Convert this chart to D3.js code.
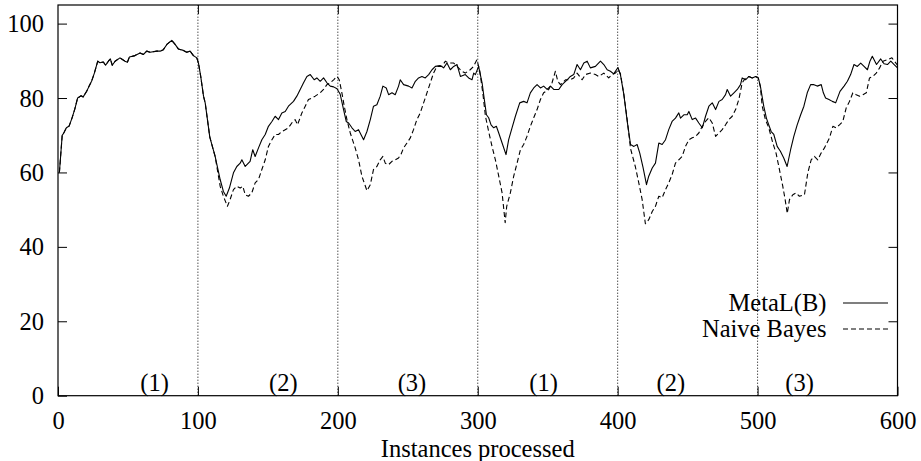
<!DOCTYPE html>
<html>
<head>
<meta charset="utf-8">
<script src="https://cdn.jsdelivr.net/npm/d3@7"></script>
<style>
  html, body { margin: 0; padding: 0; background: #fff; }
  svg { display: block; }
</style>
</head>
<body>
<svg id="chart" width="921" height="461"></svg>
<script>
// Accuracy (%) of each learner against number of instances processed: [instance, accuracy]
const metaL = [
  [1,60],[3,70],[4,70.5],[6,72],[8,72.5],[10,74.6],[12,77],[14,80],[16.5,80.6],[18,80.3],
  [20.5,81.8],[22,83],[24,84.5],[26,86.7],[28.4,89.9],[30,89.5],[32.4,89.7],[34,88.8],[36,89.9],
  [37.4,90.5],[38.8,88.8],[40.8,89.9],[44.3,90.8],[47.9,89.9],[49.6,89.6],[51,91],[55,91.4],
  [58.7,92.1],[61,91.7],[63.4,92.6],[65.8,92.3],[70.6,92.6],[73,92.6],[75.3,93],[77.8,94.4],
  [81.3,95.5],[83.7,94.4],[86,93.2],[89.6,92.8],[92,92.3],[94.4,92.6],[96.8,91.4],[99.2,90.8],
  [100.4,89.4],[102,85.8],[104,80.5],[105.2,78.7],[108.5,69.5],[112.3,64.3],[115.9,58.1],
  [118.2,54.9],[120.2,53.6],[122.5,55.8],[125.4,59.9],[127.8,61.6],[130.2,62.5],[131.4,63.4],
  [133.8,61.6],[137.3,63],[139.2,66.1],[140.9,64.3],[143.3,66.6],[145.7,68.8],[148.1,70.2],
  [150.4,72.4],[152.9,73.7],[155.2,75.1],[157.6,74.2],[160,76],[162.4,76.4],[164.7,77.8],
  [168.3,79.1],[170.7,80.5],[173.1,82.3],[175.5,84.1],[177.9,85.8],[180.3,86.3],[183.1,84.9],
  [185,85.4],[187.4,84.5],[189.8,85.4],[192.2,84.1],[194.6,83.2],[197,83],[199.4,82.5],
  [201.7,81],[204.1,76.9],[206,73.7],[207.7,73.3],[210.1,72],[212.4,71],[214.8,71.5],
  [216.5,70.2],[218.4,68.8],[220.8,71],[223.2,74.2],[225.5,77.8],[227.9,78.2],[230.3,80.5],
  [232.2,83.2],[234.6,82.7],[236.3,80.9],[238.7,81.4],[241,80.9],[243.4,83.2],[244.6,84.9],
  [247,83.6],[250.6,83.2],[253,82.7],[255.4,84.5],[257.7,85.4],[260.1,85.8],[262.5,85.4],
  [264.9,86.3],[267.3,87.6],[269.7,88.5],[273.2,88.7],[275.6,88.1],[278,89.4],[280.4,87.6],
  [282.8,88.5],[285.2,89],[287.6,85.8],[291.1,86.3],[293.5,85.4],[295.9,84.9],[297.1,86.7],
  [298.3,86.3],[300.6,88.5],[303.1,84.1],[304.7,79.6],[306.2,75.5],[307.8,74.7],[309.5,72.8],
  [311.4,72],[313.3,72.4],[315,70.6],[317.4,67.9],[320.2,64.8],[322.1,68.8],[324.5,72],
  [326.9,75.1],[330,78.7],[332.8,79.1],[335.2,78.7],[337.6,81.4],[340,82.7],[342.4,83.6],
  [344.8,82.7],[347.1,83.2],[349.6,82.3],[352,83.2],[354.3,82.3],[357.9,82.3],[360.3,83.6],
  [363.9,84.9],[366.2,85.8],[368.6,86.3],[371,89],[373.4,87.6],[375.8,89.4],[378.2,89.9],
  [380.5,88.1],[384.1,88.5],[387.7,89.9],[390.1,89],[392.5,87.6],[394.8,87.2],[397.2,86.5],
  [400.2,88.2],[402,86.2],[404.4,81],[406.8,73.8],[409.2,67.5],[411.6,67],[413.9,67.5],
  [415.8,65.2],[418.2,61.2],[420.6,56.7],[422.2,59],[424.7,61.2],[427,62.5],[429.4,67.9],
  [431.8,67.5],[434.2,68.8],[436.5,71.5],[438.9,73.7],[441.3,74.6],[443.7,76],[444.9,74.6],
  [447.3,75.5],[449.7,75.5],[450.9,76.4],[453.3,74.2],[455.7,74.6],[458,73.3],[460.5,72],
  [462.8,75.1],[465.2,77.8],[467.6,78.7],[470,76.9],[472.4,79.1],[474.7,79.6],[477.1,80.9],
  [478.3,82.3],[480.7,80.5],[483.1,81.4],[485.5,82.3],[487.8,83.6],[489,85.4],[491.4,84.9],
  [493.8,85.8],[496.2,85.4],[498.6,85.8],[500.5,85.4],[502,83.2],[504.4,77.8],[506.3,74.6],
  [508,72.8],[509.7,71],[511.6,70.2],[514,67],[516.3,65.7],[518.7,63.9],[521.1,61.6],
  [523.6,66.1],[525.9,69.7],[528.3,72.8],[530.8,75.5],[533.1,77.8],[535.5,81.4],[537.9,83.6],
  [540.3,83.6],[542.6,83.2],[545.5,83.6],[547,81.4],[548.6,80],[551,79.6],[553.4,79.1],
  [555.8,78.7],[558.9,81.8],[561.8,83.2],[564.2,84.5],[566.5,86.3],[568.9,89],[571.3,88.5],
  [573.7,89.4],[576.1,88.5],[578.5,87.6],[580.3,89.9],[582,91.2],[585,89],[588,90.5],
  [590.4,89.2],[592.8,89],[595.2,89.9],[597.6,89],[600,88.1]
];

const naiveBayes = [
  [1,60],[3,70],[4,70.5],[6,72],[8,72.5],[10,74.6],[12,77],[14,80],[16.5,80.6],[18,80.3],
  [20.5,81.8],[22,83],[24,84.5],[26,86.7],[28.4,89.9],[30,89.5],[32.4,89.7],[34,88.8],[36,89.9],
  [37.4,90.5],[38.8,88.8],[40.8,89.9],[44.3,90.8],[47.9,89.9],[49.6,89.6],[51,91],[55,91.4],
  [58.7,92.1],[61,91.7],[63.4,92.6],[65.8,92.3],[70.6,92.6],[73,92.6],[75.3,93],[77.8,94.4],
  [81.3,95.5],[83.7,94.4],[86,93.2],[89.6,92.8],[92,92.3],[94.4,92.6],[96.8,91.4],[99.2,90.8],
  [100.4,89.4],[102,85.8],[104,80.5],[105.2,78.7],[108.5,69.5],[112.3,64.3],
  [115.9,56.3],[118.2,53.6],[121.1,50.9],[123,52.7],[125.4,55.4],[127.8,56.3],[130.2,55.8],
  [132.1,56.3],[133.8,54],[136.1,53.6],[138.5,54.5],[140.9,57.2],[143.3,58.1],[145.7,60.8],
  [148.1,63.4],[150.4,67],[152.9,68.8],[155.2,70.2],[157.6,70.2],[160,71],[162.4,71.5],
  [164.7,72],[167.1,73.3],[169.5,74.2],[171.2,72.8],[174.3,76],[176.7,77.8],[179,79.6],
  [181.4,80],[183.8,80.5],[187.4,81.4],[189.8,82.3],[192.2,83.6],[194.6,84.1],[197,84.9],
  [199.4,85.8],[201,84.9],[202.9,81.4],[204.6,77.8],[206.5,74.2],[208.9,70.6],[212.4,66.6],
  [214.8,63.4],[217.2,59],[220.8,55.1],[223.2,56.7],[225.5,60.8],[227.9,61.6],[230.3,63.4],
  [232.2,64.3],[233.9,62.5],[236.3,62.1],[238.7,63],[241,63.4],[243.4,63.9],[245.1,64.8],
  [247,66.6],[249.4,67.9],[251.8,69.3],[254.1,71.5],[256.5,74.2],[258.9,76],[261.3,78.7],
  [263.7,81.4],[266.1,84.1],[268.4,86.7],[270.8,88.5],[274.4,88.5],[276.8,89.9],[279.2,89.4],
  [282.8,89.4],[285.2,88.5],[288.7,87.2],[291.1,86.7],[294.6,87.6],[297,88.5],[299.4,90.3],
  [301.3,87.6],[303.6,81.4],[305.5,75.1],[307.8,71],[310.2,67],[312.6,63.4],[315,59],
  [317.4,54.5],[319.6,46.5],[320.7,50.9],[323.3,54.5],[325.7,59],[328.1,62.5],[330.5,66.1],
  [332.8,67.5],[335.2,69.7],[337.6,72.4],[340,74.7],[342.4,76.9],[344.8,79.6],[347.1,81.4],
  [350.7,82.3],[353.1,84.1],[355.5,87.2],[357.2,84.5],[359.1,83.6],[362.7,84.9],[366.2,84.9],
  [368.6,85.4],[371,86.7],[374.6,84.9],[377,86.3],[380.5,86.7],[384.1,86.3],[386.5,85.8],
  [390.1,86.7],[393.6,85.4],[396,86.3],[398.4,86.7],[400.4,87.6],[402,86.5],[404.4,81],
  [406.8,74.2],[409.2,66.4],[412.6,61.6],[415.1,57.2],[417.5,52.7],[419.8,46.2],[422.2,47.3],
  [424.7,49.5],[427,50.9],[429.4,53.6],[431.8,53.2],[434.2,55.4],[436.5,57.2],[438.9,59.4],
  [441.3,62.5],[443.7,63.4],[446.1,64.3],[448.5,67],[450.9,68.8],[453.3,69.3],[455.7,69.7],
  [458,70.6],[460.5,72.4],[462.8,73.7],[465.2,74.7],[467.6,73.3],[470,69.7],[472.4,70.6],
  [474.7,71.5],[477.1,72.8],[479.5,74.2],[481.9,75.1],[484.3,76.9],[486.6,79.6],[489,84.1],
  [491.4,85.4],[493.8,85.8],[496.2,85.4],[498.6,85.8],[500.5,85.4],[502,83],[503.3,77.8],
  [505.6,74.2],[508,72],[510.9,67.9],[513.2,65.2],[515.6,60.8],[518,56.3],[519.7,52.7],
  [521.2,49],[522.8,52.7],[525.2,54],[527.5,54.5],[529.9,53.6],[533.5,54],[535.9,59.9],
  [538.3,63.4],[540.6,64.3],[543,63.4],[545.4,65.2],[547.8,66.6],[551.4,69.3],[553.8,72.4],
  [556.2,72],[558.5,72.8],[560.9,73.7],[563.3,77.3],[565.7,79.1],[568.1,81.4],[570.5,80.9],
  [572.9,80.5],[575.3,80.9],[577.7,81.4],[580,85.4],[582.4,85.8],[584.8,86.7],[587.2,88.1],
  [589.6,89.9],[593,90.3],[596,90.8],[600,88.8]
];

const xTicks = [0, 100, 200, 300, 400, 500, 600];
const yTicks = [0, 20, 40, 60, 80, 100];
const conceptChanges = [100, 200, 300, 400, 500];
const phaseNames = ["(1)", "(2)", "(3)", "(1)", "(2)", "(3)"];
const phaseCentres = [69, 161, 253, 347, 438, 530];
const seriesNames = ["MetaL(B)", "Naive Bayes"];

const svg = d3.select("#chart");
const plotLeft = 58, plotRight = 897.5, plotTop = 5, plotBottom = 395.7;
const serif = "Liberation Serif, Times New Roman, Times, Nimbus Roman, DejaVu Serif, serif";
const fontSize = 24.5;
const tickLen = 9;

svg.attr("font-family", serif).attr("font-size", fontSize);

const x = d3.scaleLinear().domain([0, 600]).range([plotLeft, plotRight]);
const y = d3.scaleLinear().domain([0, 105]).range([plotBottom, plotTop]);

// concept-change markers
svg.append("g").selectAll("line").data(conceptChanges).join("line")
  .attr("x1", d => x(d)).attr("x2", d => x(d))
  .attr("y1", y(0)).attr("y2", y(105))
  .attr("stroke", "#000").attr("stroke-width", 1)
  .attr("stroke-dasharray", "1,2");

// axes with inward ticks on all four sides
function styleAxis(g) {
  g.attr("font-family", serif).attr("font-size", fontSize);
  g.select(".domain").remove();
  g.selectAll(".tick line").attr("stroke", "#000").attr("stroke-width", 1);
  g.selectAll("text").attr("fill", "#000");
}

const gx = svg.append("g").attr("transform", `translate(0,${plotBottom})`)
  .call(d3.axisBottom(x).tickValues(xTicks).tickSize(-tickLen).tickSizeOuter(0).tickFormat(d3.format("d")))
  .call(styleAxis);
gx.selectAll("text").attr("y", 33.8).attr("dy", 0);

svg.append("g").attr("transform", `translate(0,${plotTop})`)
  .call(d3.axisTop(x).tickValues(xTicks.slice(1, -1)).tickSize(-tickLen).tickSizeOuter(0).tickFormat(""))
  .call(styleAxis);

const gy = svg.append("g").attr("transform", `translate(${plotLeft},0)`)
  .call(d3.axisLeft(y).tickValues(yTicks).tickSize(-tickLen).tickSizeOuter(0).tickFormat(d3.format("d")))
  .call(styleAxis);
gy.selectAll("text").attr("x", -14).attr("dy", "0.33em");

svg.append("g").attr("transform", `translate(${plotRight},0)`)
  .call(d3.axisRight(y).tickValues(yTicks.slice(1)).tickSize(-tickLen).tickSizeOuter(0).tickFormat(""))
  .call(styleAxis);

// frame
svg.append("rect")
  .attr("x", plotLeft).attr("y", plotTop)
  .attr("width", plotRight - plotLeft).attr("height", plotBottom - plotTop)
  .attr("fill", "none").attr("stroke", "#000").attr("stroke-width", 1.2);

// phase labels
svg.append("g").selectAll("text").data(phaseNames).join("text")
  .attr("x", (d, i) => x(phaseCentres[i]))
  .attr("y", 391)
  .attr("text-anchor", "middle")
  .text(d => d);

// x-axis title
svg.append("text")
  .attr("x", x(300)).attr("y", 457)
  .attr("text-anchor", "middle")
  .text("Instances processed");

// accuracy curves
const line = d3.line().x(d => x(d[0])).y(d => y(d[1]));
const styles = [null, "5,3"];

[metaL, naiveBayes].forEach((data, i) => {
  svg.append("path")
    .datum(data)
    .attr("d", line)
    .attr("fill", "none")
    .attr("stroke", "#000")
    .attr("stroke-width", 1.1)
    .attr("stroke-linejoin", "round")
    .attr("stroke-dasharray", styles[i]);
});

// key
const key = svg.append("g");
seriesNames.forEach((name, i) => {
  const cy = 303 + i * 26;
  key.append("text")
    .attr("x", 826.5).attr("y", cy + 8)
    .attr("text-anchor", "end")
    .text(name);
  key.append("line")
    .attr("x1", 843).attr("x2", 888)
    .attr("y1", cy).attr("y2", cy)
    .attr("stroke", "#000").attr("stroke-width", 1.1)
    .attr("stroke-dasharray", styles[i]);
});
</script>
</body>
</html>
